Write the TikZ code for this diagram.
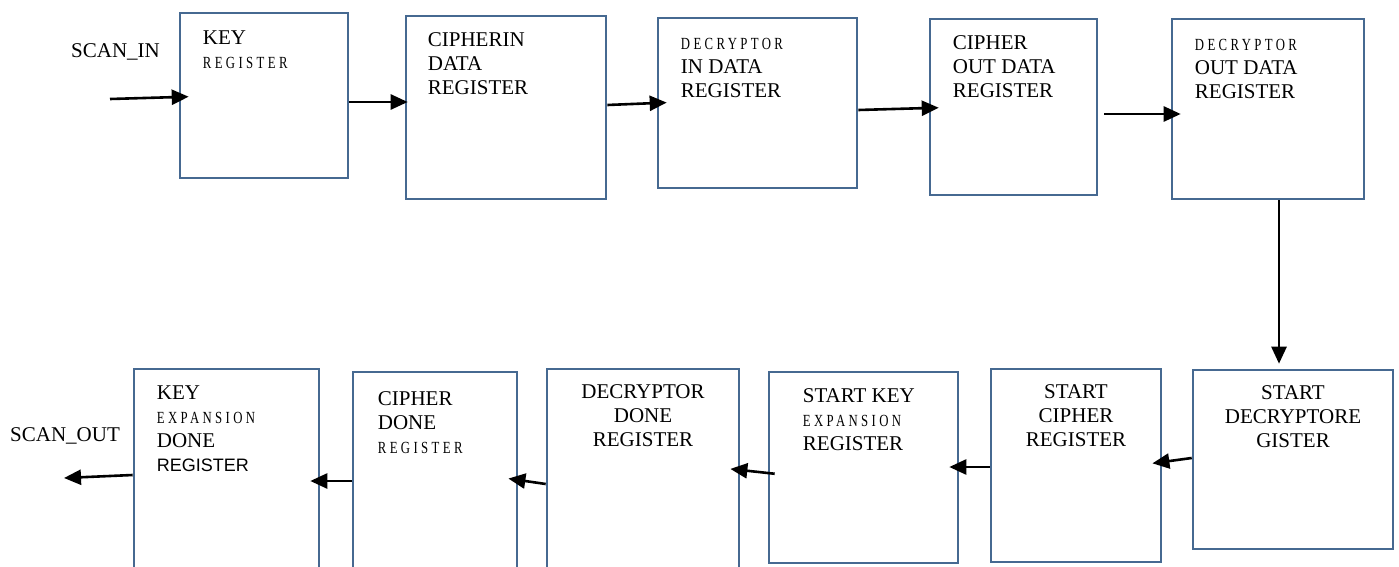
\documentclass[tikz,border=0pt]{standalone}
\usepackage{fontspec}
\setmainfont{Liberation Serif}
\setsansfont{Liberation Sans}
\usetikzlibrary{arrows.meta,positioning}
\definecolor{boxblue}{RGB}{70,105,145}
\newcommand{\thin}[1]{{\fontsize{17}{24}\selectfont\addfontfeature{FakeStretch=0.75,LetterSpace=20}#1}}

\begin{document}
\begin{tikzpicture}[x=1pt, y=-1pt,
        reg/.style = {draw=boxblue, line width=2.6pt, inner sep=0pt},
        txt/.style = {inner sep=0pt, align=left, font=\fontsize{21}{24}\selectfont},
        arr/.style = {-{Triangle[length=17pt,width=15pt]}, line width=2.6pt, shorten >=-10pt}]
    \useasboundingbox (0,0) rectangle (1399,567);

    % upper row, left to right
    \node[reg, minimum width=168pt, minimum height=165pt] (key) at (264,95.5) {};
    \node[reg, minimum width=200pt, minimum height=183pt] (cin) at (506,107.5) {};
    \node[reg, minimum width=199pt, minimum height=170pt] (din) at (757.5,103) {};
    \node[reg, minimum width=167pt, minimum height=176pt] (cout) at (1013.5,107) {};
    \node[reg, minimum width=192pt, minimum height=180pt] (dout) at (1268,109) {};

    % lower row, right to left
    \node[reg, minimum width=200pt, minimum height=179pt] (sdec) at (1293,459.5) {};
    \node[reg, minimum width=170pt, minimum height=193pt] (scip) at (1076,465.5) {};
    \node[reg, minimum width=189pt, minimum height=191pt] (skey) at (863.5,467.5) {};
    \node[reg, minimum width=192pt, minimum height=211pt] (ddone) at (643,474.5) {};
    \node[reg, minimum width=164pt, minimum height=208pt] (cdone) at (435,476) {};
    \node[reg, minimum width=185pt, minimum height=211pt] (kdone) at (226.5,474.5) {};

    % box texts
    \node[txt, below right=19pt and 24pt of key.north west] (keyT) {KEY\\\thin{REGISTER}};
    \node[txt, below right=18pt and 23pt of cin.north west] (cinT) {CIPHERIN\\DATA\\REGISTER};
    \node[txt, below right=21pt and 24pt of din.north west] (dinT) {\thin{DECRYPTOR}\\IN DATA\\REGISTER};
    \node[txt, below right=18pt and 24pt of cout.north west] (coutT) {CIPHER\\OUT DATA\\REGISTER};
    \node[txt, below right=21pt and 24pt of dout.north west] (doutT) {\thin{DECRYPTOR}\\OUT DATA\\REGISTER};
    \node[txt, align=center, below=17pt of sdec.north] (sdecT) {START\\DECRYPTORE\\GISTER};
    \node[txt, align=center, below=17pt of scip.north] (scipT) {START\\CIPHER\\REGISTER};
    \node[txt, below right=18pt and 35pt of skey.north west] (skeyT) {START KEY\\\thin{EXPANSION}\\REGISTER};
    \node[txt, align=center, below=17pt of ddone.north] (ddoneT) {DECRYPTOR\\DONE\\REGISTER};
    \node[txt, below right=21pt and 26pt of cdone.north west] (cdoneT) {CIPHER\\DONE\\\thin{REGISTER}};
    \node[txt, below right=18pt and 24pt of kdone.north west] (kdoneT) {KEY\\\thin{EXPANSION}\\DONE\\{\sffamily\fontsize{18}{24}\selectfont REGISTER}};

    % scan chain ends
    \node[txt, anchor=base west] (scanin) at (71,58) {SCAN\_IN};
    \node[txt, anchor=base west] (scanout) at (10,441) {SCAN\_OUT};
    \coordinate (in) at (110,99);
    \coordinate (out) at (64,478);

    \draw[arr] (in) -- (key.west |- 0,97);
    \draw[arr, shorten >=-3pt] (key.east |- 0,102) -- (cin.west |- 0,102);
    \draw[arr] (cin.east |- 0,105) -- (din.west |- 0,103);
    \draw[arr] (din.east |- 0,110) -- (cout.west |- 0,108);
    \draw[arr, shorten <=6pt] (cout.east |- 0,114) -- (dout.west |- 0,114);
    \draw[arr, shorten >=5pt] (dout.south -| 1279,0) -- (sdec.north -| 1279,0);
    \draw[arr] (sdec.west |- 0,458) -- (scip.east |- 0,462);
    \draw[arr] (scip.west |- 0,467) -- (skey.east |- 0,467);
    \draw[arr, shorten <=-7pt] (skey.west |- 0,473) -- (ddone.east |- 0,470);
    \draw[arr] (ddone.west |- 0,484) -- (cdone.east |- 0,480);
    \draw[arr] (cdone.west |- 0,481) -- (kdone.east |- 0,481);
    \draw[arr, shorten >=0pt] (kdone.west |- 0,475) -- (out);
\end{tikzpicture}
\end{document}
